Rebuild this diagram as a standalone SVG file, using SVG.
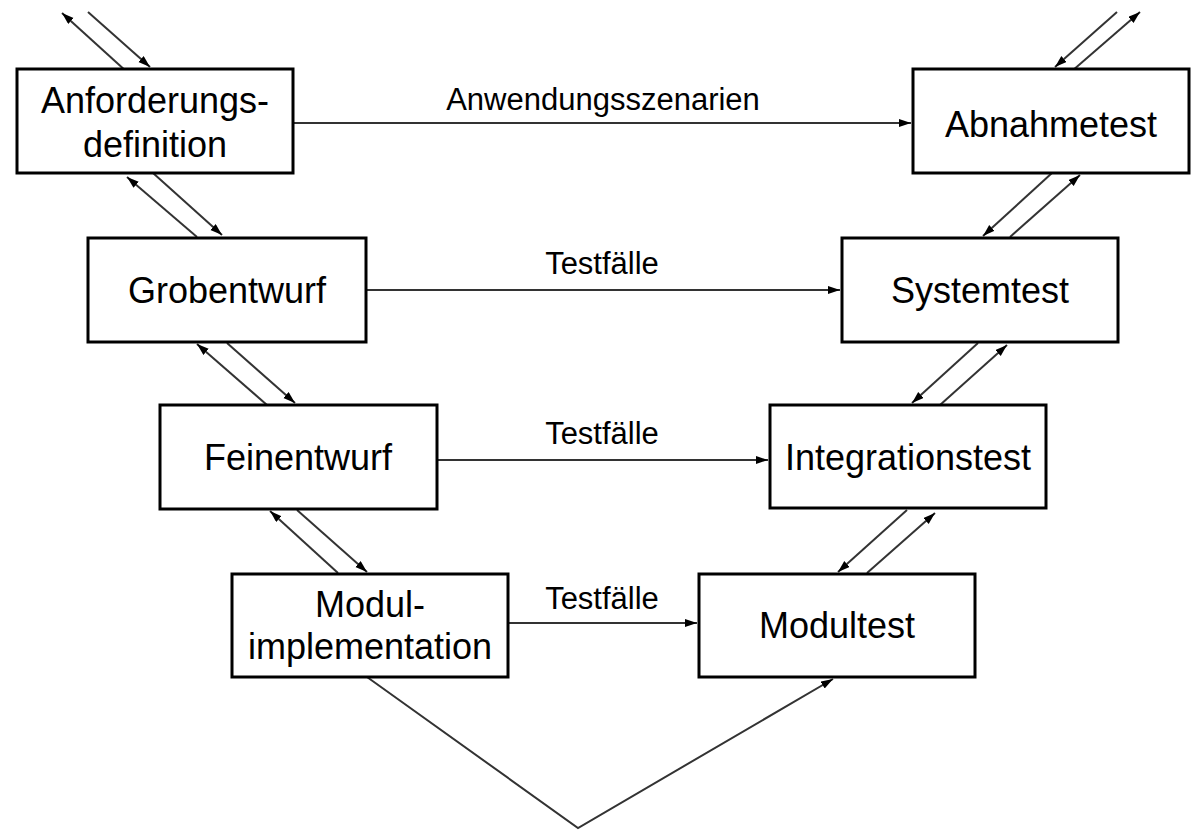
<svg xmlns="http://www.w3.org/2000/svg" width="1192" height="830" viewBox="0 0 1192 830">
<defs>
<marker id="ah" markerUnits="userSpaceOnUse" markerWidth="14" markerHeight="10" refX="12" refY="4" orient="auto">
<path d="M0,0 L12,4 L0,8 z" fill="#000"/>
</marker>
<style>
.box{fill:#fff;stroke:#000;stroke-width:3}
.t{font-family:"Liberation Sans",Arial,sans-serif;font-size:36px;fill:#000;text-anchor:middle}
.l{font-family:"Liberation Sans",Arial,sans-serif;font-size:31px;fill:#000;text-anchor:middle}
.c{fill:none;stroke:#333;stroke-width:2;marker-end:url(#ah)}
</style>
</defs>
<rect width="1192" height="830" fill="#fff"/>
<g id="connectors">
<line class="c" x1="293" y1="123" x2="911" y2="123"/>
<line class="c" x1="366" y1="290" x2="840" y2="290"/>
<line class="c" x1="437" y1="460" x2="768" y2="460"/>
<line class="c" x1="508" y1="623" x2="697" y2="623"/>
<line class="c" x1="127" y1="72" x2="62" y2="13"/>
<line class="c" x1="88" y1="12" x2="150" y2="67"/>
<line class="c" x1="197" y1="237" x2="127" y2="177"/>
<line class="c" x1="153" y1="173" x2="222" y2="235"/>
<line class="c" x1="267" y1="405" x2="197" y2="344"/>
<line class="c" x1="227" y1="343" x2="295" y2="403"/>
<line class="c" x1="338" y1="573" x2="270" y2="511"/>
<line class="c" x1="297" y1="510" x2="367" y2="572"/>
<line class="c" x1="1117" y1="12" x2="1055" y2="67"/>
<line class="c" x1="1072" y1="71" x2="1140" y2="12"/>
<line class="c" x1="1052" y1="173" x2="983" y2="236"/>
<line class="c" x1="1010" y1="237" x2="1080" y2="175"/>
<line class="c" x1="978" y1="343" x2="912" y2="403"/>
<line class="c" x1="940" y1="405" x2="1007" y2="345"/>
<line class="c" x1="907" y1="510" x2="838" y2="572"/>
<line class="c" x1="867" y1="573" x2="935" y2="513"/>
<polyline class="c" points="367,677 578,828 833,679"/>
<text class="l" x="603" y="110">Anwendungsszenarien</text>
<text class="l" x="602" y="274">Testfälle</text>
<text class="l" x="602" y="444">Testfälle</text>
<text class="l" x="602" y="609">Testfälle</text>
</g>
<g id="anforderungsdefinition">
<rect class="box" x="17" y="69" width="276" height="104"/>
<text class="t" x="155" y="113">Anforderungs-</text>
<text class="t" x="155" y="157">definition</text>
</g>
<g id="abnahmetest">
<rect class="box" x="913" y="69" width="276" height="104"/>
<text class="t" x="1051" y="137">Abnahmetest</text>
</g>
<g id="grobentwurf">
<rect class="box" x="88" y="238" width="278" height="104"/>
<text class="t" x="227" y="303">Grobentwurf</text>
</g>
<g id="systemtest">
<rect class="box" x="842" y="238" width="276" height="104"/>
<text class="t" x="980" y="303">Systemtest</text>
</g>
<g id="feinentwurf">
<rect class="box" x="160" y="405" width="277" height="104"/>
<text class="t" x="298" y="470">Feinentwurf</text>
</g>
<g id="integrationstest">
<rect class="box" x="770" y="405" width="276" height="103"/>
<text class="t" x="908" y="470">Integrationstest</text>
</g>
<g id="modulimplementation">
<rect class="box" x="232" y="574" width="276" height="103"/>
<text class="t" x="370" y="617">Modul-</text>
<text class="t" x="370" y="659">implementation</text>
</g>
<g id="modultest">
<rect class="box" x="699" y="574" width="276" height="103"/>
<text class="t" x="837" y="638">Modultest</text>
</g>
</svg>
